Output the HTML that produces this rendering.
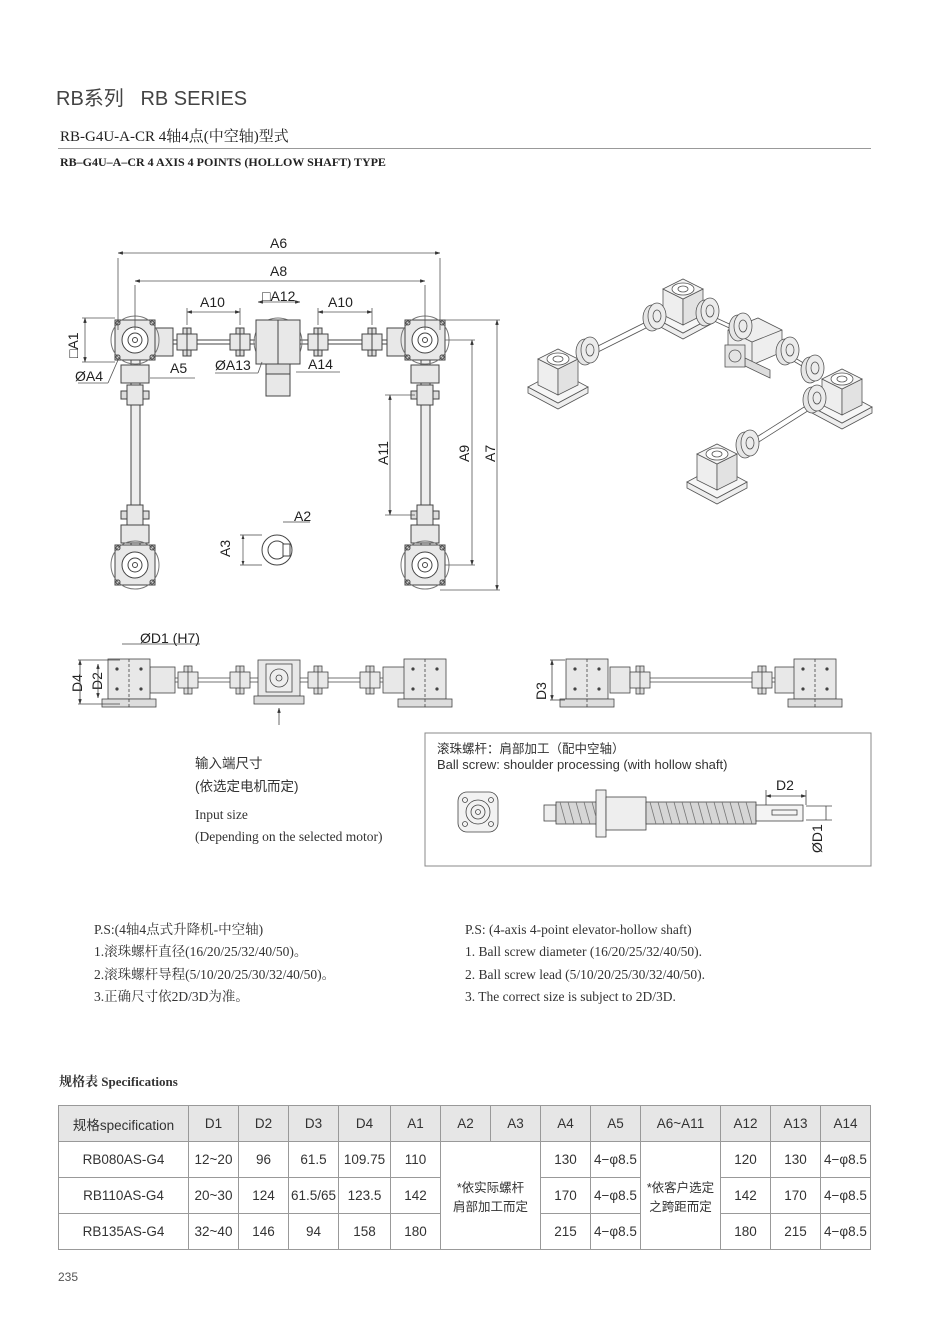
<!DOCTYPE html>
<html><head><meta charset="utf-8">
<style>
body{margin:0;background:#fff;}
#p{position:relative;width:950px;height:1319px;overflow:hidden;font-family:"Liberation Sans","Noto Sans CJK SC",sans-serif;color:#333;}
.t{position:absolute;white-space:nowrap;}
.serif{font-family:"Liberation Serif","Noto Serif CJK SC",serif;}
table{position:absolute;left:58px;top:1105px;border-collapse:collapse;font-size:13.5px;color:#333;}
td{border:1px solid #999;text-align:center;height:35px;padding:0;}
tr.h td{background:#e6e6e6;}
</style></head><body><div id="p">
<div class="t" style="left:56px;top:82px;font-size:20px;color:#444;">RB系列 &nbsp;&nbsp;RB SERIES</div>
<div class="t serif" style="left:60px;top:125px;font-size:15px;color:#222;">RB-G4U-A-CR 4轴4点(中空轴)型式</div>
<div style="position:absolute;left:58px;top:148px;width:813px;height:1px;background:#999"></div>
<div class="t serif" style="left:60px;top:155px;font-size:12px;font-weight:bold;color:#222;">RB–G4U–A–CR 4 AXIS 4 POINTS (HOLLOW SHAFT) TYPE</div>

<svg style="position:absolute;left:0;top:0" width="950" height="1319" font-family="Liberation Sans, sans-serif" font-size="13" fill="none" stroke="#444" stroke-width="1">
<defs>
<g id="gb"><rect x="-20" y="-20" width="40" height="40" fill="#e8e8e8"/><circle r="24" stroke="#777"/><circle r="13" fill="#fff"/><circle r="7"/><circle r="2.5"/><circle cx="-17" cy="-17" r="2"/><circle cx="17" cy="-17" r="2"/><circle cx="-17" cy="17" r="2"/><circle cx="17" cy="17" r="2"/></g>
<g id="fl"><rect x="-4" y="-14" width="8" height="28" fill="#ddd"/><rect x="-10" y="-8" width="20" height="16" fill="#e8e8e8"/><line x1="0" y1="-14" x2="0" y2="14"/></g>
<g id="flv"><rect x="-14" y="-4" width="28" height="8" fill="#ddd"/><rect x="-8" y="-10" width="16" height="20" fill="#e8e8e8"/></g>
<g id="sb"><rect x="-21" y="-20" width="42" height="40" fill="#e8e8e8"/><rect x="-27" y="20" width="54" height="8" fill="#ddd"/><line x1="0" y1="-20" x2="0" y2="28" stroke-dasharray="3,2"/><circle cx="-12" cy="-10" r="1.2" fill="#444"/><circle cx="12" cy="-10" r="1.2" fill="#444"/><circle cx="-12" cy="10" r="1.2" fill="#444"/><circle cx="12" cy="10" r="1.2" fill="#444"/></g>
<g id="iso" stroke="#555" stroke-width="0.8">
<path d="M-30,22L0,38L30,22L30,28L0,44L-30,28z" fill="#eee"/>
<path d="M-30,22L0,6L30,22L0,38z" fill="#f6f6f6"/>
<path d="M-20,-6L0,4L0,30L-20,20z" fill="#eee"/><path d="M0,4L20,-6L20,20L0,30z" fill="#e2e2e2"/>
<path d="M-20,-6L0,-16L20,-6L0,4z" fill="#f4f4f4"/>
<ellipse cx="0" cy="-6" rx="11" ry="6" fill="#fff"/><ellipse cx="0" cy="-6" rx="5" ry="3"/>
</g>
<g id="cp" stroke="#555" stroke-width="0.8"><ellipse rx="9" ry="13" fill="#e6e6e6"/><ellipse cx="5" cy="-2" rx="9" ry="13" fill="#ececec"/><ellipse cx="5" cy="-2" rx="4" ry="6"/></g>
<marker id="a" viewBox="0 0 10 10" refX="10" refY="5" markerWidth="6" markerHeight="6" orient="auto-start-reverse"><path d="M0,2L10,5L0,8z" fill="#333"/></marker>
</defs>
<!-- top view shafts -->
<line x1="155" y1="340" x2="255" y2="340"/><line x1="155" y1="344" x2="255" y2="344"/>
<line x1="300" y1="340" x2="405" y2="340"/><line x1="300" y1="344" x2="405" y2="344"/>
<rect x="155" y="328" width="18" height="28" fill="#e8e8e8"/><rect x="387" y="328" width="18" height="28" fill="#e8e8e8"/>
<use href="#fl" x="187" y="342"/><use href="#fl" x="240" y="342"/><use href="#fl" x="318" y="342"/><use href="#fl" x="372" y="342"/>
<rect x="131" y="360" width="9" height="185" fill="#eee"/><rect x="421" y="360" width="9" height="185" fill="#eee"/>
<use href="#flv" x="135" y="395"/><use href="#flv" x="135" y="515"/><use href="#flv" x="425" y="395"/><use href="#flv" x="425" y="515"/>
<rect x="121" y="365" width="28" height="18" fill="#e8e8e8"/><rect x="411" y="365" width="28" height="18" fill="#e8e8e8"/>
<rect x="121" y="525" width="28" height="18" fill="#e8e8e8"/><rect x="411" y="525" width="28" height="18" fill="#e8e8e8"/>
<use href="#gb" x="135" y="340"/><use href="#gb" x="425" y="340"/><use href="#gb" x="135" y="565"/><use href="#gb" x="425" y="565"/>
<circle cx="278" cy="342" r="24" stroke="#777"/>
<rect x="256" y="320" width="44" height="44" fill="#e8e8e8"/><line x1="278" y1="320" x2="278" y2="364"/>
<rect x="266" y="364" width="24" height="10" fill="#ddd"/><rect x="266" y="374" width="24" height="22" fill="#e8e8e8"/>
<!-- dim lines top -->
<g stroke="#555" stroke-width="0.8">
<line x1="118" y1="258" x2="118" y2="330"/><line x1="440" y1="258" x2="440" y2="330"/>
<line x1="118" y1="253" x2="440" y2="253" marker-start="url(#a)" marker-end="url(#a)"/>
<line x1="135" y1="285" x2="135" y2="330"/><line x1="425" y1="285" x2="425" y2="330"/>
<line x1="135" y1="281" x2="425" y2="281" marker-start="url(#a)" marker-end="url(#a)"/>
<line x1="187" y1="308" x2="187" y2="325"/><line x1="240" y1="308" x2="240" y2="325"/>
<line x1="187" y1="312" x2="240" y2="312" marker-start="url(#a)" marker-end="url(#a)"/>
<line x1="318" y1="308" x2="318" y2="325"/><line x1="372" y1="308" x2="372" y2="325"/>
<line x1="318" y1="312" x2="372" y2="312" marker-start="url(#a)" marker-end="url(#a)"/>
<line x1="258" y1="302" x2="300" y2="302" marker-start="url(#a)" marker-end="url(#a)"/>
<line x1="82" y1="318" x2="115" y2="318"/><line x1="82" y1="362" x2="115" y2="362"/>
<line x1="85" y1="318" x2="85" y2="362" marker-start="url(#a)" marker-end="url(#a)"/>
<line x1="78" y1="383" x2="108" y2="383"/><line x1="108" y1="383" x2="118" y2="360"/>
<line x1="150" y1="378" x2="195" y2="378"/>
<line x1="215" y1="373" x2="258" y2="373"/><line x1="258" y1="373" x2="262" y2="362"/>
<line x1="296" y1="372" x2="340" y2="372"/>
<line x1="440" y1="320" x2="500" y2="320"/><line x1="440" y1="590" x2="500" y2="590"/>
<line x1="497" y1="320" x2="497" y2="590" marker-start="url(#a)" marker-end="url(#a)"/>
<line x1="445" y1="340" x2="475" y2="340"/><line x1="445" y1="565" x2="475" y2="565"/>
<line x1="472" y1="340" x2="472" y2="565" marker-start="url(#a)" marker-end="url(#a)"/>
<line x1="385" y1="395" x2="415" y2="395"/><line x1="385" y1="515" x2="415" y2="515"/>
<line x1="390" y1="395" x2="390" y2="515" marker-start="url(#a)" marker-end="url(#a)"/>
</g>
<!-- keyway -->
<circle cx="277" cy="550" r="15"/><circle cx="277" cy="550" r="9"/><rect x="283" y="544" width="7" height="12" fill="#fff"/>
<line x1="240" y1="535" x2="262" y2="535" stroke-width="0.7"/><line x1="240" y1="565" x2="262" y2="565" stroke-width="0.7"/>
<line x1="243" y1="535" x2="243" y2="565" stroke-width="0.7" marker-start="url(#a)" marker-end="url(#a)"/>
<line x1="283" y1="522" x2="310" y2="522" stroke-width="0.7"/>
<g fill="#222" stroke="none" font-size="14">
<text x="270" y="248">A6</text><text x="270" y="276">A8</text>
<text x="200" y="307">A10</text><text x="328" y="307">A10</text>
<text x="262" y="301">□A12</text>
<text x="215" y="370">ØA13</text><text x="308" y="369">A14</text>
<text x="75" y="381">ØA4</text><text x="170" y="373">A5</text>
<text x="294" y="521">A2</text>
<text transform="translate(78,358) rotate(-90)">□A1</text>
<text transform="translate(230,557) rotate(-90)">A3</text>
<text transform="translate(388,465) rotate(-90)">A11</text>
<text transform="translate(469,462) rotate(-90)">A9</text>
<text transform="translate(495,462) rotate(-90)">A7</text>
<text x="140" y="643">ØD1 (H7)</text>
<text transform="translate(82,692) rotate(-90)">D4</text>
<text transform="translate(102,690) rotate(-90)">D2</text>
<text transform="translate(546,700) rotate(-90)">D3</text>
<text x="776" y="790">D2</text>
<text transform="translate(822,853) rotate(-90)">ØD1</text>
</g>
<!-- side view -->
<g stroke-width="0.8">
<line x1="150" y1="678" x2="405" y2="678"/><line x1="150" y1="682" x2="405" y2="682"/>
<rect x="150" y="667" width="25" height="26" fill="#e8e8e8"/><rect x="383" y="667" width="22" height="26" fill="#e8e8e8"/>
<use href="#fl" x="188" y="680"/><use href="#fl" x="240" y="680"/><use href="#fl" x="318" y="680"/><use href="#fl" x="370" y="680"/>
<use href="#sb" x="129" y="679"/><use href="#sb" x="425" y="679"/>
<rect x="258" y="660" width="42" height="36" fill="#e8e8e8"/><rect x="254" y="696" width="50" height="8" fill="#ddd"/>
<rect x="266" y="664" width="26" height="28" fill="#eee"/><circle cx="279" cy="678" r="9"/><circle cx="279" cy="678" r="3"/>
<line x1="279" y1="708" x2="279" y2="725" marker-start="url(#a)"/>
<line x1="78" y1="660" x2="120" y2="660"/><line x1="78" y1="704" x2="120" y2="704"/>
<line x1="80" y1="660" x2="80" y2="704" marker-start="url(#a)" marker-end="url(#a)"/>
<line x1="98" y1="664" x2="98" y2="698" marker-start="url(#a)" marker-end="url(#a)"/>
<line x1="122" y1="644" x2="200" y2="644"/>
<line x1="610" y1="678" x2="795" y2="678"/><line x1="610" y1="682" x2="795" y2="682"/>
<rect x="610" y="667" width="20" height="26" fill="#e8e8e8"/><rect x="775" y="667" width="20" height="26" fill="#e8e8e8"/>
<use href="#fl" x="640" y="680"/><use href="#fl" x="762" y="680"/>
<use href="#sb" x="587" y="679"/><use href="#sb" x="815" y="679"/>
<line x1="550" y1="660" x2="565" y2="660"/><line x1="550" y1="700" x2="565" y2="700"/>
<line x1="552" y1="660" x2="552" y2="700" marker-start="url(#a)" marker-end="url(#a)"/>
</g>
<!-- ball screw box -->
<rect x="425" y="733" width="446" height="133" stroke="#888"/>
<g stroke-width="0.8">
<rect x="458" y="792" width="40" height="40" rx="9" fill="#f2f2f2"/><circle cx="478" cy="812" r="12"/><circle cx="478" cy="812" r="7"/><circle cx="478" cy="812" r="2.5"/>
<circle cx="465" cy="800" r="2.5"/><circle cx="491" cy="800" r="2.5"/><circle cx="465" cy="824" r="2.5"/><circle cx="491" cy="824" r="2.5"/>
<rect x="544" y="805" width="12" height="16" fill="#eee"/>
<rect x="556" y="802" width="42" height="22" fill="#d6d6d6"/>
<rect x="596" y="790" width="10" height="47" fill="#eee"/><rect x="606" y="797" width="40" height="33" fill="#eee"/>
<rect x="646" y="802" width="110" height="22" fill="#d6d6d6"/>
<path d="M560,802l6,22M568,802l6,22M576,802l6,22M584,802l6,22M592,802l4,15M650,802l6,22M658,802l6,22M666,802l6,22M674,802l6,22M682,802l6,22M690,802l6,22M698,802l6,22M706,802l6,22M714,802l6,22M722,802l6,22M730,802l6,22M738,802l6,22M746,802l6,22" stroke="#777"/>
<rect x="756" y="805" width="47" height="16" fill="#f4f4f4"/><rect x="772" y="810" width="25" height="5"/>
<line x1="766" y1="796" x2="806" y2="796" marker-start="url(#a)" marker-end="url(#a)"/>
<line x1="766" y1="790" x2="766" y2="805"/><line x1="806" y1="790" x2="806" y2="805"/>
<line x1="806" y1="806" x2="832" y2="806"/><line x1="806" y1="820" x2="832" y2="820"/>
<line x1="826" y1="806" x2="826" y2="820"/>
</g>
<!-- 3D iso sketch -->
<g stroke="#555" stroke-width="0.8">
<line x1="590" y1="350" x2="648" y2="321"/><line x1="592" y1="355" x2="650" y2="326"/>
<line x1="712" y1="316" x2="738" y2="328"/><line x1="712" y1="320" x2="738" y2="332"/>
<line x1="785" y1="352" x2="812" y2="368"/><line x1="785" y1="356" x2="812" y2="372"/>
<line x1="752" y1="440" x2="812" y2="402"/><line x1="754" y1="445" x2="814" y2="407"/>
<use href="#iso" x="558" y="365"/>
<use href="#iso" x="683" y="295"/>
<use href="#iso" x="842" y="385"/>
<use href="#iso" x="717" y="460"/>
<path d="M728,330L758,318L782,330L782,352L752,365L728,352z" fill="#eee"/>
<path d="M728,330L752,342L782,330M752,342L752,365"/>
<path d="M745,358L770,370L770,378L745,366z" fill="#ddd"/>
<rect x="725" y="345" width="20" height="22" fill="#e4e4e4"/><circle cx="735" cy="356" r="6"/>
<use href="#cp" x="585" y="352"/><use href="#cp" x="652" y="318"/>
<use href="#cp" x="705" y="313"/><use href="#cp" x="738" y="328"/>
<use href="#cp" x="785" y="352"/><use href="#cp" x="810" y="370"/>
<use href="#cp" x="812" y="400"/><use href="#cp" x="745" y="445"/>
</g>
</svg>

<div class="t" style="left:195px;top:752px;font-size:13.5px;">输入端尺寸</div>
<div class="t" style="left:195px;top:775px;font-size:13.5px;">(依选定电机而定)</div>
<div class="t serif" style="left:195px;top:807px;font-size:13.5px;">Input size</div>
<div class="t serif" style="left:195px;top:829px;font-size:13.5px;">(Depending on the selected motor)</div>
<div class="t" style="left:437px;top:738px;font-size:12.5px;">滚珠螺杆：肩部加工（配中空轴）</div>
<div class="t" style="left:437px;top:757px;font-size:13px;">Ball screw: shoulder processing (with hollow shaft)</div>

<div class="t serif" style="left:94px;top:919px;font-size:13.5px;line-height:22.3px;">P.S:(4轴4点式升降机-中空轴)<br>1.滚珠螺杆直径(16/20/25/32/40/50)。<br>2.滚珠螺杆导程(5/10/20/25/30/32/40/50)。<br>3.正确尺寸依2D/3D为准。</div>
<div class="t serif" style="left:465px;top:919px;font-size:13.5px;line-height:22.3px;">P.S: (4-axis 4-point elevator-hollow shaft)<br>1. Ball screw diameter (16/20/25/32/40/50).<br>2. Ball screw lead (5/10/20/25/30/32/40/50).<br>3. The correct size is subject to 2D/3D.</div>

<div class="t serif" style="left:59px;top:1071px;font-size:13px;font-weight:bold;color:#333;">规格表 Specifications</div>
<table>
<tr class="h"><td style="width:129px">规格specification</td><td style="width:49px">D1</td><td style="width:49px">D2</td><td style="width:49px">D3</td><td style="width:51px">D4</td><td style="width:49px">A1</td><td style="width:49px">A2</td><td style="width:49px">A3</td><td style="width:49px">A4</td><td style="width:49px">A5</td><td style="width:79px">A6~A11</td><td style="width:49px">A12</td><td style="width:49px">A13</td><td style="width:49px">A14</td></tr>
<tr><td>RB080AS-G4</td><td>12~20</td><td>96</td><td>61.5</td><td>109.75</td><td>110</td><td colspan="2" rowspan="3" style="font-size:12.5px">*依实际螺杆<br>肩部加工而定</td><td>130</td><td>4−φ8.5</td><td rowspan="3" style="font-size:12.5px;vertical-align:top;padding-top:35px">*依客户选定<br>之跨距而定</td><td>120</td><td>130</td><td>4−φ8.5</td></tr>
<tr><td>RB110AS-G4</td><td>20~30</td><td>124</td><td>61.5/65</td><td>123.5</td><td>142</td><td>170</td><td>4−φ8.5</td><td>142</td><td>170</td><td>4−φ8.5</td></tr>
<tr><td>RB135AS-G4</td><td>32~40</td><td>146</td><td>94</td><td>158</td><td>180</td><td>215</td><td>4−φ8.5</td><td>180</td><td>215</td><td>4−φ8.5</td></tr>
</table>
<div class="t" style="left:58px;top:1270px;font-size:12px;color:#555;">235</div>
</div></body></html>
